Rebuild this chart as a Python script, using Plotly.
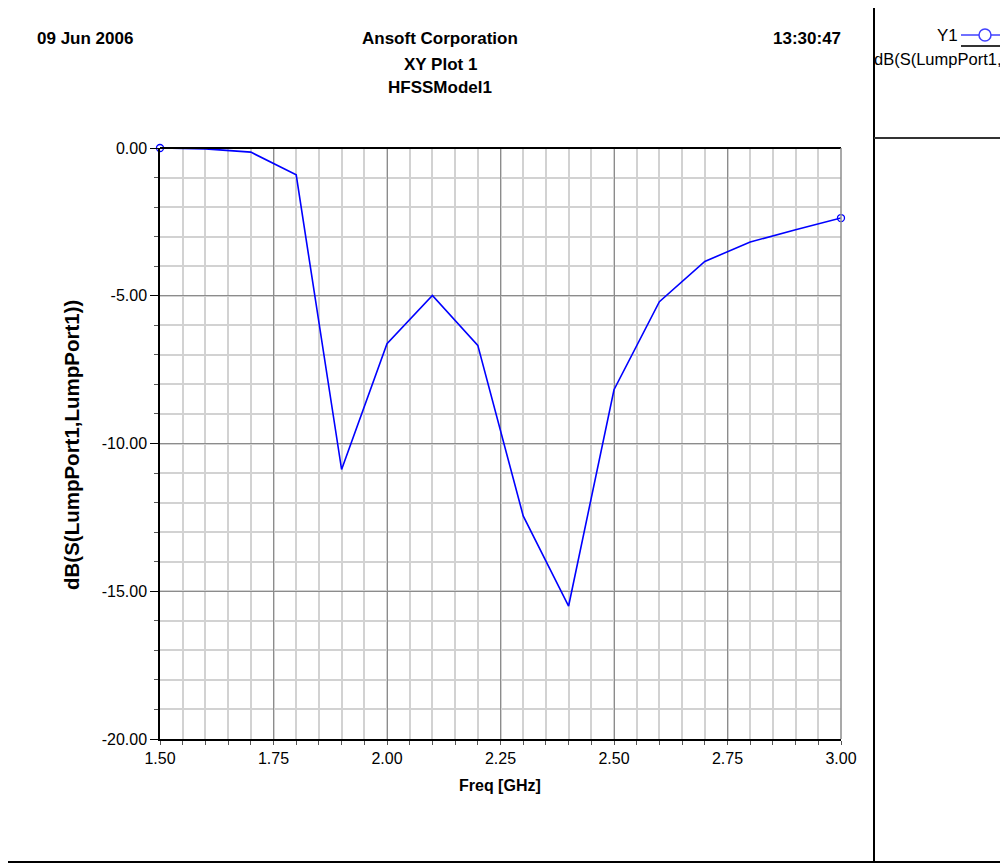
import plotly.graph_objects as go

freq_ghz = [1.5, 1.6, 1.7, 1.8, 1.9, 2.0, 2.1, 2.2, 2.3, 2.4, 2.5, 2.6, 2.7, 2.8, 2.9, 3.0]
s11_db = [0.0, -0.03, -0.14, -0.91, -10.88, -6.62, -4.99, -6.68, -12.45, -15.50,
          -8.18, -5.20, -3.84, -3.18, -2.77, -2.37]

x_ticks = [1.5, 1.75, 2.0, 2.25, 2.5, 2.75, 3.0]
y_ticks = [0.0, -5.0, -10.0, -15.0, -20.0]

header_left = "09 Jun 2006"
header_right = "13:30:47"
title_lines = ["Ansoft Corporation", "XY Plot 1", "HFSSModel1"]
legend_name = "Y1"
legend_label = "dB(S(LumpPort1,"
y_title = "dB(S(LumpPort1,LumpPort1))"
x_title = "Freq [GHz]"

# page has an 8px body margin; work in reference pixel coords and shift
OFF = 8
W, H = 1008 - OFF, 865 - OFF
L, R, T, B = 160 - OFF, 167, 148 - OFF, 126
BLUE = "#0000ff"
HFONT = "Liberation Sans Narrow, Arial Narrow, Liberation Sans, Arial"
AFONT = "Liberation Sans, Arial"

fig = go.Figure()
fig.add_trace(go.Scatter(x=freq_ghz, y=s11_db, mode="lines",
                         line=dict(color=BLUE, width=1.6), showlegend=False,
                         cliponaxis=False))
fig.add_trace(go.Scatter(x=[freq_ghz[0], freq_ghz[-1]], y=[s11_db[0], s11_db[-1]],
                         mode="markers", showlegend=False, cliponaxis=False,
                         marker=dict(symbol="circle-open", size=7, color=BLUE,
                                     line=dict(width=1.3, color=BLUE))))

axis_font = dict(family=AFONT, size=16, color="black")
fig.update_xaxes(range=[1.5, 3.0], tickvals=x_ticks, ticktext=[f"{v:.2f}" for v in x_ticks],
                 tickfont=axis_font, showgrid=True, gridcolor="#8c8c8c", gridwidth=1,
                 showline=True, linecolor="black", linewidth=2, mirror=False,
                 ticks="outside", ticklen=4, tickcolor="#555", zeroline=False,
                 minor=dict(dtick=0.05, tick0=1.5, showgrid=True, gridcolor="#d2d2d2",
                            gridwidth=1.5, ticks="outside", ticklen=4, tickcolor="#555"))
fig.update_yaxes(range=[-20, 0], tickvals=y_ticks, ticktext=[f"{v:.2f}" for v in y_ticks],
                 tickfont=axis_font, showgrid=True, gridcolor="#8c8c8c", gridwidth=1,
                 showline=True, linecolor="black", linewidth=1.5,
                 ticks="outside", ticklen=8, tickcolor="black", zeroline=False,
                 minor=dict(dtick=1, tick0=0, showgrid=True, gridcolor="#d2d2d2",
                            gridwidth=1.5, ticks="outside", ticklen=4, tickcolor="#555"))


def px(x):
    return (x - OFF - L) / (W - L - R)


def py(y):
    return (H - B - (y - OFF)) / (H - T - B)


shapes = [
    dict(type="line", xref="paper", yref="paper", x0=0, x1=1, y0=1, y1=1,
         line=dict(color="black", width=2)),
    dict(type="line", xref="paper", yref="paper", x0=1, x1=1, y0=0, y1=1,
         line=dict(color="#8c8c8c", width=1.5)),
    # outer frame pieces that fall inside the page
    dict(type="line", xref="paper", yref="paper", x0=px(0), x1=px(1010), y0=py(862), y1=py(862),
         line=dict(color="black", width=2)),
    dict(type="line", xref="paper", yref="paper", x0=px(874), x1=px(874), y0=py(0), y1=py(862),
         line=dict(color="black", width=2)),
    dict(type="line", xref="paper", yref="paper", x0=px(874), x1=px(1010), y0=py(138), y1=py(138),
         line=dict(color="#333", width=2)),
    # legend sample line, underline and marker
    dict(type="line", xref="paper", yref="paper", x0=px(961), x1=px(1010), y0=py(35), y1=py(35),
         line=dict(color="#4040ff", width=1.5)),
    dict(type="line", xref="paper", yref="paper", x0=px(961), x1=px(1010), y0=py(46), y1=py(46),
         line=dict(color="#333", width=2)),
    dict(type="circle", xref="paper", yref="paper", x0=px(979), x1=px(991), y0=py(29), y1=py(41),
         fillcolor="white", line=dict(color="#4040ff", width=1.5)),
]

ann = []


def text(x, y, s, anchor, size=17, bold=True, family=HFONT, angle=0):
    ann.append(dict(xref="paper", yref="paper", x=px(x), y=py(y),
                    text=f"<b>{s}</b>" if bold else s, textangle=angle,
                    showarrow=False, xanchor=anchor, yanchor="middle",
                    font=dict(family=family, size=size, color="black")))


text(35, 39, header_left, "left")
text(843, 39, header_right, "right")
text(440, 39, title_lines[0], "center")
text(440, 64, title_lines[1], "center")
text(440, 88, title_lines[2], "center")
text(960, 35, legend_name, "right", size=17, bold=False, family=AFONT)
text(872, 59, legend_label, "left", size=16.5, bold=False, family=AFONT)
text(71, 445, y_title, "center", size=20.5, family=AFONT, angle=-90)
text(500, 785, x_title, "center", size=16, family=AFONT)

fig.update_layout(width=W, height=H, margin=dict(l=L, r=R, t=T, b=B, autoexpand=False),
                  paper_bgcolor="white", plot_bgcolor="white", shapes=shapes, annotations=ann,
                  showlegend=False)
fig.write_html("out.html")
